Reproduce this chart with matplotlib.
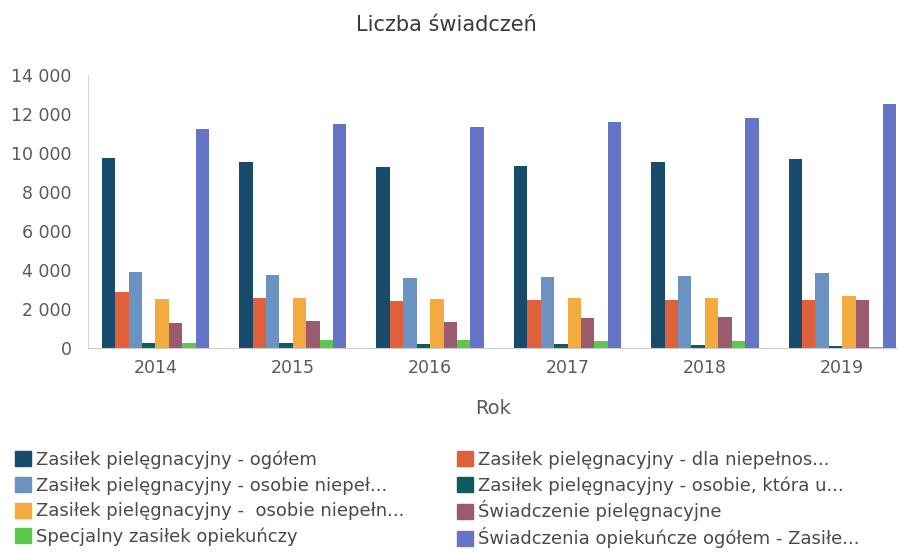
import numpy as np
import matplotlib
matplotlib.use('Agg')
import matplotlib.pyplot as plt
from matplotlib.patches import Patch, Rectangle
from matplotlib.legend_handler import HandlerPatch
from matplotlib.ticker import FuncFormatter

plt.rcParams['font.family'] = ['DejaVu Sans']

years = ['2014', '2015', '2016', '2017', '2018', '2019']

series_names = [
    'Zasiłek pielęgnacyjny - ogółem',
    'Zasiłek pielęgnacyjny - dla niepełnos...',
    'Zasiłek pielęgnacyjny - osobie niepeł...',
    'Zasiłek pielęgnacyjny - osobie, która u...',
    'Zasiłek pielęgnacyjny -  osobie niepełn...',
    'Świadczenie pielęgnacyjne',
    'Specjalny zasiłek opiekuńczy',
    'Świadczenia opiekuńcze ogółem - Zasiłe...',
]

ogolem = [9750, 9550, 9300, 9350, 9550, 9700]
dla_niepelnos = [2850, 2580, 2420, 2450, 2450, 2450]
osobie_niepel = [3920, 3760, 3600, 3650, 3700, 3850]
osobie_ktora = [250, 250, 200, 200, 150, 80]
osobie_niepeln = [2530, 2560, 2530, 2550, 2550, 2650]
swiadczenie_piel = [1300, 1400, 1350, 1550, 1600, 2450]
specjalny = [230, 380, 420, 350, 330, 50]
opiekuncze_ogolem = [11230, 11480, 11330, 11600, 11800, 12500]

values = [ogolem, dla_niepelnos, osobie_niepel, osobie_ktora,
          osobie_niepeln, swiadczenie_piel, specjalny, opiekuncze_ogolem]
colors = ['#184b6b', '#e0603c', '#6a93c2', '#0f5a5c',
          '#f3aa3e', '#9a5b6e', '#5ec84e', '#6674c6']

fig = plt.figure(figsize=(8.99, 5.53), dpi=100)
ax = fig.add_axes([0.098, 0.371, 0.900, 0.493])

x = np.arange(len(years))
w = 0.0977
for i, (vals, col) in enumerate(zip(values, colors)):
    ax.bar(x + (i - 3.5) * w, vals, w, color=col, label=series_names[i])

ax.set_xlim(-0.49, 5.40)
ax.set_ylim(0, 14000)
ax.set_yticks(range(0, 14001, 2000))
ax.yaxis.set_major_formatter(FuncFormatter(lambda v, p: f'{int(v):,}'.replace(',', ' ')))
ax.set_xticks(x)
ax.set_xticklabels(years)
ax.tick_params(length=0, labelsize=12.5, colors='#5a5a5a')
ax.tick_params(axis='x', pad=8)
ax.tick_params(axis='y', pad=12)
for s in ['top', 'right']:
    ax.spines[s].set_visible(False)
ax.spines['left'].set_color('#d5d8dc')
ax.spines['bottom'].set_color('#c8ccd0')
ax.set_xlabel('Rok', fontsize=14, color='#5a5a5a', labelpad=16)

fig.text(0.497, 0.955, 'Liczba świadczeń', ha='center', va='center',
         fontsize=15, color='#3a3a3a')


# small square marker inside a taller handle box, so rows are evenly spaced
def square(legend, orig_handle, xdescent, ydescent, width, height, fontsize):
    h = 0.83 * fontsize
    return Rectangle((-xdescent, -ydescent + (height - h) / 2), width, h)


# legend in two columns, read column by column
order_left = [0, 2, 4, 6]
order_right = [1, 3, 5, 7]
for order, xpos in [(order_left, 15 / 899), (order_right, 457 / 899)]:
    handles = [Patch(color=colors[k]) for k in order]
    labels = [series_names[k] for k in order]
    leg = fig.legend(handles, labels, loc='upper left', bbox_to_anchor=(xpos, 0.188),
                     frameon=False, fontsize=13, handlelength=0.9, handleheight=1.3,
                     handletextpad=0.25, labelspacing=0.32, borderaxespad=0, borderpad=0,
                     handler_map={Patch: HandlerPatch(patch_func=square)})
    for t in leg.get_texts():
        t.set_color('#4a4a4a')

fig.savefig('out.png', dpi=100)
